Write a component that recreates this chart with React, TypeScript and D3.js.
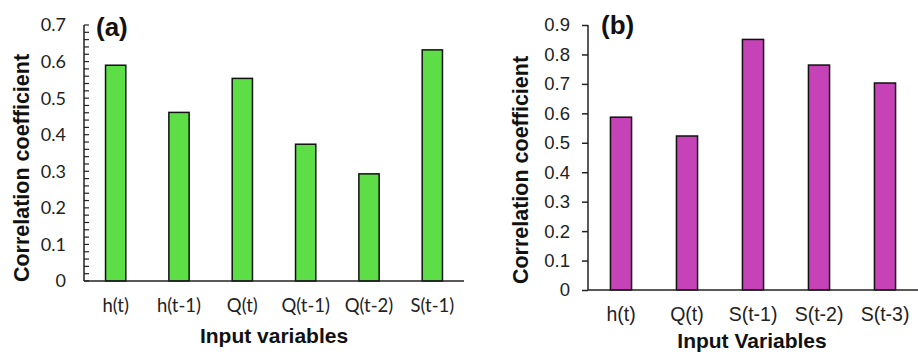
import { useEffect, useRef } from 'react';
import * as d3 from 'd3';

// Panel (a)
const catsA = ['h(t)', 'h(t-1)', 'Q(t)', 'Q(t-1)', 'Q(t-2)', 'S(t-1)'];
const valsA = [0.59, 0.461, 0.554, 0.374, 0.293, 0.632];
const ticksA = [0, 0.1, 0.2, 0.3, 0.4, 0.5, 0.6, 0.7];

// Panel (b)
const catsB = ['h(t)', 'Q(t)', 'S(t-1)', 'S(t-2)', 'S(t-3)'];
const valsB = [0.587, 0.523, 0.851, 0.764, 0.703];
const ticksB = [0, 0.1, 0.2, 0.3, 0.4, 0.5, 0.6, 0.7, 0.8, 0.9];

const W = 918;
const H = 354;

export default function App() {
  const svgRef = useRef<SVGSVGElement>(null);

  useEffect(() => {
    if (!svgRef.current) return;
    const svg = d3.select(svgRef.current);
    svg.selectAll('*').remove();

    const titleFont = 'Liberation Sans, Arial, sans-serif';

    // ---------- panel (a) ----------
    {
      const x0 = 84, x1 = 464, yTop = 25, yBot = 281;
      const x = d3.scaleBand().domain(catsA).range([x0, x1]).paddingInner(0.68).paddingOuter(0.34);
      const y = d3.scaleLinear().domain([0, 0.7]).range([yBot, yTop]);
      const g = svg.append('g');

      // bars
      g.selectAll('rect.bar')
        .data(valsA)
        .enter()
        .append('rect')
        .attr('class', 'bar')
        .attr('x', (_d, i) => x(catsA[i])!)
        .attr('y', (d) => y(d))
        .attr('width', x.bandwidth())
        .attr('height', (d) => yBot - y(d))
        .attr('fill', '#5DDE46')
        .attr('stroke', '#111')
        .attr('stroke-width', 1.5);

      // minor + major ticks pointing inward
      const minor = d3.range(0, 0.7001, 0.02);
      g.append('g')
        .selectAll('line')
        .data(minor)
        .enter()
        .append('line')
        .attr('x1', x0)
        .attr('x2', x0 + 5)
        .attr('y1', (d) => y(d))
        .attr('y2', (d) => y(d))
        .attr('stroke', '#222')
        .attr('stroke-width', 1.2);

      // axis lines
      g.append('line').attr('x1', x0).attr('x2', x0).attr('y1', yTop).attr('y2', yBot)
        .attr('stroke', '#222').attr('stroke-width', 1.5);
      g.append('line').attr('x1', x0).attr('x2', x1).attr('y1', yBot).attr('y2', yBot)
        .attr('stroke', '#222').attr('stroke-width', 1.5);

      // y tick labels
      g.append('g')
        .selectAll('text')
        .data(ticksA)
        .enter()
        .append('text')
        .attr('x', 66)
        .attr('y', (d) => y(d))
        .attr('dy', '0.36em')
        .attr('text-anchor', 'end')
        .attr('font-family', 'Lato, sans-serif')
        .attr('font-size', 18)
        .attr('fill', '#222')
        .text((d) => (d === 0 ? '0' : d.toFixed(1)));

      // x tick labels
      g.append('g')
        .selectAll('text')
        .data(catsA)
        .enter()
        .append('text')
        .attr('x', (d) => x(d)! + x.bandwidth() / 2)
        .attr('y', 312)
        .attr('text-anchor', 'middle')
        .attr('font-family', 'Lato, sans-serif')
        .attr('font-size', 18.5)
        .attr('fill', '#222')
        .text((d) => d);

      g.append('text')
        .attr('transform', 'translate(29,168) rotate(-90)')
        .attr('text-anchor', 'middle')
        .attr('font-family', titleFont)
        .attr('font-weight', 'bold')
        .attr('font-size', 21.5)
        .attr('fill', '#111')
        .text('Correlation coefficient');

      g.append('text')
        .attr('x', 274)
        .attr('y', 343)
        .attr('text-anchor', 'middle')
        .attr('font-family', titleFont)
        .attr('font-weight', 'bold')
        .attr('font-size', 21)
        .attr('fill', '#111')
        .text('Input variables');

      g.append('text')
        .attr('x', 96)
        .attr('y', 36)
        .attr('font-family', titleFont)
        .attr('font-weight', 'bold')
        .attr('font-size', 26)
        .attr('fill', '#111')
        .text('(a)');
    }

    // ---------- panel (b) ----------
    {
      const x0 = 588, x1 = 918, yTop = 25, yBot = 290;
      const x = d3.scaleBand().domain(catsB).range([x0, x1]).paddingInner(0.68).paddingOuter(0.34);
      const y = d3.scaleLinear().domain([0, 0.9]).range([yBot, yTop]);
      const g = svg.append('g');

      g.selectAll('rect.bar')
        .data(valsB)
        .enter()
        .append('rect')
        .attr('class', 'bar')
        .attr('x', (_d, i) => x(catsB[i])!)
        .attr('y', (d) => y(d))
        .attr('width', x.bandwidth())
        .attr('height', (d) => yBot - y(d))
        .attr('fill', '#C643B7')
        .attr('stroke', '#111')
        .attr('stroke-width', 1.5);

      const yAxis = d3.axisLeft(y)
        .tickValues(ticksB)
        .tickSize(6)
        .tickPadding(12)
        .tickFormat((d) => (+d === 0 ? '0' : (+d).toFixed(1)));
      const ax = g.append('g').attr('transform', `translate(${x0},0)`).call(yAxis);
      ax.select('.domain').remove();
      ax.selectAll('line').attr('stroke', '#222').attr('stroke-width', 1.5);
      ax.selectAll('text')
        .attr('font-family', titleFont)
        .attr('font-size', 18.5)
        .attr('fill', '#222');

      g.append('line').attr('x1', x0).attr('x2', x0).attr('y1', yTop).attr('y2', yBot)
        .attr('stroke', '#222').attr('stroke-width', 1.5);
      g.append('line').attr('x1', x0).attr('x2', x1).attr('y1', yBot).attr('y2', yBot)
        .attr('stroke', '#222').attr('stroke-width', 1.5);

      g.append('g')
        .selectAll('text')
        .data(catsB)
        .enter()
        .append('text')
        .attr('x', (d) => x(d)! + x.bandwidth() / 2)
        .attr('y', 321)
        .attr('text-anchor', 'middle')
        .attr('font-family', titleFont)
        .attr('font-size', 19.5)
        .attr('fill', '#222')
        .text((d) => d);

      g.append('text')
        .attr('transform', 'translate(528,170) rotate(-90)')
        .attr('text-anchor', 'middle')
        .attr('font-family', titleFont)
        .attr('font-weight', 'bold')
        .attr('font-size', 21.5)
        .attr('fill', '#111')
        .text('Correlation coefficient');

      g.append('text')
        .attr('x', 752)
        .attr('y', 348)
        .attr('text-anchor', 'middle')
        .attr('font-family', titleFont)
        .attr('font-weight', 'bold')
        .attr('font-size', 21)
        .attr('fill', '#111')
        .text('Input Variables');

      g.append('text')
        .attr('x', 601)
        .attr('y', 34)
        .attr('font-family', titleFont)
        .attr('font-weight', 'bold')
        .attr('font-size', 26)
        .attr('fill', '#111')
        .text('(b)');
    }
  }, []);

  return (
    <svg
      ref={svgRef}
      width={W}
      height={H}
      viewBox={`0 0 ${W} ${H}`}
      style={{ position: 'absolute', left: 0, top: 0, background: '#fff' }}
    />
  );
}
